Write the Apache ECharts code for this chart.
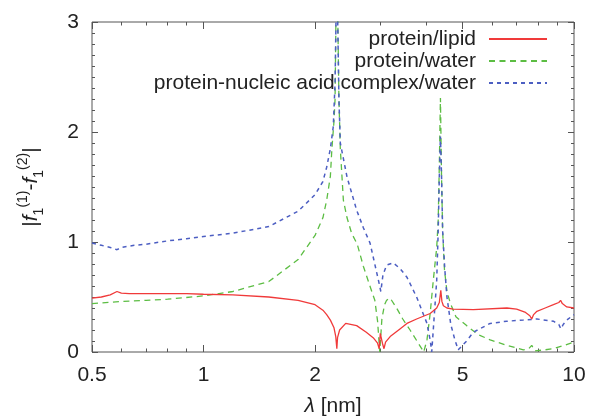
<!DOCTYPE html>
<html>
<head>
<meta charset="utf-8">
<script src="https://cdn.jsdelivr.net/npm/echarts@6/dist/echarts.min.js"></script>
<style>
  html, body { margin: 0; padding: 0; background: #fff; }
  #chart { width: 591px; height: 417px; }
</style>
</head>
<body>
<div id="chart"></div>
<script>
// Wavelength (nm) and |f1(1) - f1(2)| for each interface pair
const lipidLambda = [0.5, 0.53, 0.56, 0.584, 0.6, 0.63, 0.7, 0.8, 0.9, 1.0, 1.2, 1.5, 1.8, 2.0, 2.1, 2.15, 2.2, 2.25, 2.275, 2.29, 2.30, 2.33, 2.42, 2.59, 2.75, 2.87, 2.95, 2.98, 3.0, 3.04, 3.07, 3.10, 3.19, 3.39, 3.54, 3.76, 4.09, 4.26, 4.33, 4.37, 4.40, 4.44, 4.54, 4.72, 5.35, 6.59, 7.0, 7.4, 7.6, 7.69, 7.78, 7.94, 8.36, 8.8, 9.1, 9.2, 9.3, 9.56, 10];
const lipidValue  = [0.49, 0.50, 0.52, 0.55, 0.535, 0.53, 0.53, 0.53, 0.53, 0.525, 0.52, 0.50, 0.47, 0.43, 0.38, 0.34, 0.29, 0.22, 0.14, 0.03, 0.13, 0.20, 0.26, 0.24, 0.18, 0.13, 0.08, 0.03, 0.17, 0.08, 0.03, 0.09, 0.14, 0.21, 0.26, 0.30, 0.35, 0.40, 0.45, 0.56, 0.46, 0.42, 0.40, 0.39, 0.385, 0.40, 0.39, 0.36, 0.33, 0.30, 0.34, 0.37, 0.40, 0.43, 0.45, 0.47, 0.44, 0.41, 0.40];

const waterLambda = [0.5, 0.6, 0.7, 0.8, 1.0, 1.2, 1.5, 1.8, 2.0, 2.1, 2.15, 2.2, 2.22, 2.25, 2.265, 2.28, 2.29, 2.30, 2.32, 2.34, 2.385, 2.44, 2.51, 2.6, 2.70, 2.8, 2.90, 2.95, 2.99, 3.03, 3.08, 3.12, 3.19, 3.32, 3.45, 3.61, 3.8, 3.93, 4.01, 4.09, 4.17, 4.26, 4.30, 4.33, 4.36, 4.39, 4.42, 4.47, 4.54, 4.63, 4.8, 5.13, 5.5, 5.94, 6.59, 7.30, 7.55, 7.69, 7.85, 7.94, 8.36, 8.8, 9.4, 10];
const waterValue  = [0.44, 0.46, 0.47, 0.48, 0.51, 0.55, 0.64, 0.84, 1.06, 1.22, 1.38, 1.6, 1.84, 2.1, 2.3, 3.2, 3.6, 3.2, 2.3, 1.85, 1.38, 1.22, 1.08, 0.98, 0.78, 0.62, 0.47, 0.28, 0.0, 0.3, 0.43, 0.47, 0.49, 0.40, 0.30, 0.2, 0.08, 0.0, 0.11, 0.35, 0.65, 0.95, 1.2, 1.7, 2.31, 1.6, 1.1, 0.75, 0.55, 0.45, 0.32, 0.24, 0.16, 0.11, 0.06, 0.02, 0.03, 0.06, 0.01, 0.0, 0.02, 0.03, 0.06, 0.09];

const complexLambda = [0.5, 0.53, 0.56, 0.584, 0.60, 0.65, 0.7, 0.8, 0.9, 1.0, 1.2, 1.5, 1.8, 2.0, 2.1, 2.15, 2.2, 2.24, 2.265, 2.28, 2.29, 2.30, 2.32, 2.34, 2.44, 2.59, 2.7, 2.815, 2.935, 2.98, 3.01, 3.05, 3.12, 3.25, 3.39, 3.54, 3.76, 4.01, 4.09, 4.13, 4.17, 4.26, 4.30, 4.33, 4.36, 4.39, 4.42, 4.48, 4.54, 4.65, 4.77, 4.87, 5.13, 5.35, 5.94, 6.59, 7.30, 7.94, 8.8, 9.1, 9.22, 9.35, 9.56, 10];
const complexValue  = [0.99, 0.97, 0.95, 0.93, 0.95, 0.97, 0.98, 1.01, 1.03, 1.05, 1.08, 1.14, 1.28, 1.43, 1.55, 1.68, 1.85, 2.05, 2.45, 3.1, 3.6, 3.1, 2.3, 1.9, 1.59, 1.29, 1.13, 0.99, 0.72, 0.62, 0.55, 0.70, 0.79, 0.81, 0.76, 0.68, 0.50, 0.26, 0.11, 0.0, 0.2, 0.65, 1.1, 1.6, 1.96, 1.6, 1.1, 0.75, 0.5, 0.25, 0.11, 0.02, 0.1, 0.18, 0.26, 0.28, 0.29, 0.30, 0.28, 0.25, 0.21, 0.25, 0.29, 0.34];

const seriesNames = ['protein/lipid', 'protein/water', 'protein-nucleic acid complex/water'];

// Axis ticks
const xMajorTicks = [0.5, 1, 2, 5, 10];
const xTickLabels = ['0.5', '1', '2', '5', '10'];
const xMinorTicks = [0.6, 0.7, 0.8, 0.9, 3, 4, 6, 7, 8, 9];
const yTicks = [0, 1, 2, 3];

const FONT = '"Liberation Sans", Arial, Helvetica, sans-serif';
const TEXT = '#222';
const FRAME = '#555';

const zip = (xs, ys) => xs.map((x, i) => [x, ys[i]]);

function xAxisDef(position, ticks, len, withLabels) {
  const ax = {
    type: 'log',
    logBase: 10,
    min: 0.5,
    max: 10,
    position: position,
    axisLine: { show: false },
    splitLine: { show: false },
    axisTick: {
      show: true, inside: true, length: len, customValues: ticks,
      lineStyle: { color: FRAME, width: 1 }
    },
    axisLabel: { show: false }
  };
  if (withLabels) {
    ax.axisLabel = {
      show: true,
      customValues: xMajorTicks,
      margin: 13,
      color: TEXT,
      fontFamily: FONT,
      fontSize: 21,
      formatter: v => {
        const i = xMajorTicks.findIndex(t => Math.abs(t - v) < 1e-6);
        return i >= 0 ? xTickLabels[i] : '';
      }
    };
    ax.name = '{i|λ} [nm]';
    ax.nameLocation = 'middle';
    ax.nameGap = 44;
    ax.nameTextStyle = {
      color: TEXT, fontFamily: FONT, fontSize: 21,
      rich: { i: { fontStyle: 'italic', fontFamily: FONT, fontSize: 21, color: TEXT } }
    };
  }
  return ax;
}

function yAxisDef(position, withLabels) {
  const ax = {
    type: 'value',
    min: 0,
    max: 3,
    interval: 1,
    position: position,
    axisLine: { show: false },
    splitLine: { show: false },
    axisTick: { show: true, inside: true, length: 6, lineStyle: { color: FRAME } },
    minorTick: { show: true, splitNumber: 10, length: 3, lineStyle: { color: FRAME } },
    minorSplitLine: { show: false },
    axisLabel: { show: false }
  };
  if (withLabels) {
    ax.axisLabel = {
      show: true, margin: 13, color: TEXT, fontFamily: FONT, fontSize: 21,
      formatter: v => (yTicks.includes(v) ? String(v) : '')
    };
    ax.name = '|{i|f}{sub|1}{sup|(1)}-{i|f}{sub|1}{sup|(2)}|';
    ax.nameLocation = 'middle';
    ax.nameRotate = 90;
    ax.nameGap = 46;
    ax.nameTextStyle = {
      color: TEXT, fontFamily: FONT, fontSize: 21, lineHeight: 30,
      rich: {
        i: { fontStyle: 'italic', fontFamily: FONT, fontSize: 21, lineHeight: 30, color: TEXT },
        sub: { fontFamily: FONT, fontSize: 14, lineHeight: 14, verticalAlign: 'bottom', color: TEXT },
        sup: { fontFamily: FONT, fontSize: 14, lineHeight: 14, verticalAlign: 'top', color: TEXT }
      }
    };
  }
  return ax;
}

const chart = echarts.init(document.getElementById('chart'), null, { renderer: 'canvas' });

chart.setOption({
  animation: false,
  backgroundColor: '#fff',
  grid: {
    left: 92, right: 17, top: 22, bottom: 65,
    // keep the plot box fixed; axis names may sit close to the edge
    outerBoundsMode: 'none',
    containLabel: false,
    show: true, borderColor: FRAME, borderWidth: 1, backgroundColor: 'transparent'
  },
  xAxis: [
    xAxisDef('bottom', xMajorTicks, 7, true),
    xAxisDef('bottom', xMinorTicks, 3.5, false),
    xAxisDef('top', xMajorTicks, 7, false),
    xAxisDef('top', xMinorTicks, 3.5, false)
  ],
  yAxis: [
    yAxisDef('left', true),
    yAxisDef('right', false)
  ],
  legend: {
    orient: 'vertical',
    right: 38,
    top: 23,
    align: 'right',
    itemWidth: 58,
    itemHeight: 14,
    itemGap: 0,
    // line sample only, no marker in the middle
    itemStyle: { opacity: 0 },
    textStyle: {
      color: TEXT, fontFamily: FONT, fontSize: 21, lineHeight: 22,
      padding: [0, 8, 0, 0]
    },
    data: seriesNames
  },
  series: [
    {
      name: seriesNames[0], type: 'line', showSymbol: false, symbol: 'none',
      data: zip(lipidLambda, lipidValue), clip: true, z: 3,
      lineStyle: { color: '#f03a3a', width: 1.3, type: 'solid' },
      itemStyle: { color: '#f03a3a' }
    },
    {
      name: seriesNames[1], type: 'line', showSymbol: false, symbol: 'none',
      data: zip(waterLambda, waterValue), clip: true, z: 2,
      lineStyle: { color: '#5cbd43', width: 1.3, type: [6, 4.5] },
      itemStyle: { color: '#5cbd43' }
    },
    {
      name: seriesNames[2], type: 'line', showSymbol: false, symbol: 'none',
      data: zip(complexLambda, complexValue), clip: true, z: 2,
      lineStyle: { color: '#4c5ec2', width: 1.5, type: [4, 4] },
      itemStyle: { color: '#4c5ec2' }
    }
  ]
});
</script>
</body>
</html>
